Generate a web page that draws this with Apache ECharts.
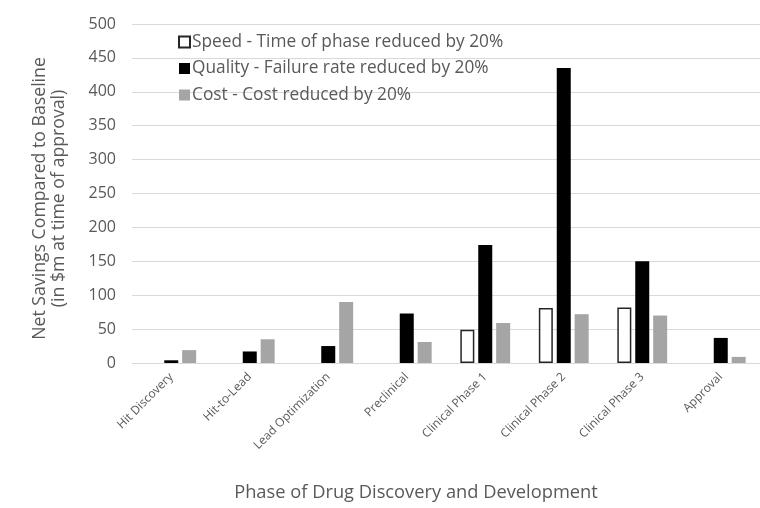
<!DOCTYPE html>
<html>
<head>
<meta charset="utf-8">
<script src="https://cdn.jsdelivr.net/npm/echarts@6/dist/echarts.min.js"></script>
<style>
html,body{margin:0;padding:0;background:#fff;}
#c{width:760px;height:508px;}
</style>
</head>
<body>
<div id="c"></div>
<script>
const categories = ["Hit Discovery","Hit-to-Lead","Lead Optimization","Preclinical","Clinical Phase 1","Clinical Phase 2","Clinical Phase 3","Approval"];
const speedValues = [null, null, null, null, 49, 81, 82, null];
const qualityValues = [4, 17, 25, 73, 174, 435, 150, 37];
const costValues = [19, 35, 90, 31, 59, 72, 70, 9];
const seriesNames = ["Speed - Time of phase reduced by 20%","Quality - Failure rate reduced by 20%","Cost - Cost reduced by 20%"];
const yTitle = "Net Savings Compared to Baseline\n(in $m at time of approval)";
const xTitle = "Phase of Drug Discovery and Development";

const FONT = "Open Sans";
const TXT = "#595959";
const chart = echarts.init(document.getElementById('c'), null, {renderer:'canvas'});
chart.setOption({
  animation:false,
  backgroundColor:'#fff',
  textStyle:{fontFamily:FONT},
  title:{
    text:xTitle, left:411, top:479, textAlign:'center',
    textStyle:{fontFamily:FONT, fontSize:18.3, fontWeight:'normal', color:TXT}
  },
  legend:{
    orient:'vertical', left:173, top:27, itemWidth:11, itemHeight:11, itemGap:6.5,
    icon:'rect',
    textStyle:{fontFamily:FONT, fontSize:17.3, color:TXT, padding:[0,0,0,-3], lineHeight:20},
    data:seriesNames
  },
  grid:{left:132, right:-13, top:24, bottom:145, containLabel:false},
  xAxis:{
    type:'category', data:categories,
    axisLine:{lineStyle:{color:'#d9d9d9', width:1}},
    axisTick:{show:false},
    axisLabel:{rotate:45, fontSize:12, color:TXT, margin:12, interval:0, fontFamily:FONT}
  },
  yAxis:{
    type:'value', min:0, max:500, interval:50,
    name:yTitle, nameLocation:'middle', nameRotate:90, nameGap:64,
    nameTextStyle:{fontFamily:FONT, fontSize:17.7, color:TXT, lineHeight:19, padding:[0,10,0,0]},
    axisLine:{show:false}, axisTick:{show:false},
    axisLabel:{fontSize:16, color:TXT, margin:16, fontFamily:FONT},
    splitLine:{lineStyle:{color:'#d9d9d9', width:1}}
  },
  series:[
    {name:seriesNames[0], type:'bar', data:speedValues, barWidth:14, barGap:'28%', barCategoryGap:'37%',
     itemStyle:{color:'#ffffff', borderColor:'#262626', borderWidth:1.5}},
    {name:seriesNames[1], type:'bar', data:qualityValues, barWidth:14, barGap:'28%',
     itemStyle:{color:'#000000'}},
    {name:seriesNames[2], type:'bar', data:costValues, barWidth:14, barGap:'28%',
     itemStyle:{color:'#a5a5a5'}}
  ]
});
</script>
</body>
</html>
